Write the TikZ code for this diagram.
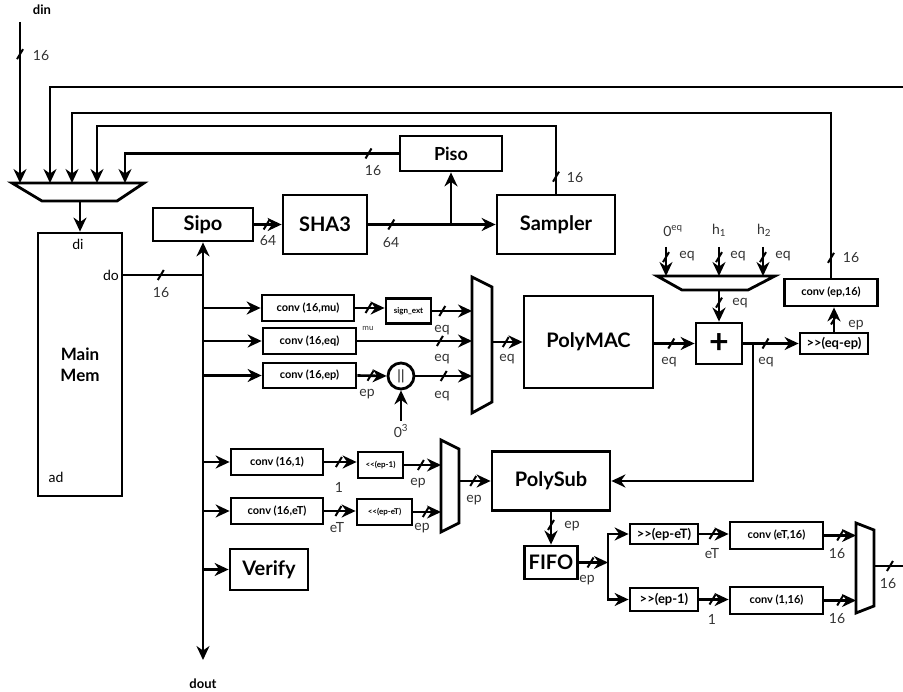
\documentclass[tikz,border=0pt]{standalone}
\usepackage{fontspec}
\setmainfont{Lato}
\usetikzlibrary{arrows.meta,positioning}

\begin{document}
\begin{tikzpicture}[x=1pt,y=-1pt,>={Stealth[length=14pt,width=13pt]},
  wire/.style={line width=2.6pt},
  blk/.style={draw,line width=2.8pt,inner sep=0pt,font=\bfseries\fontsize{20}{22}\selectfont},
  cblk/.style={draw,line width=2.8pt,inner sep=0pt,font=\bfseries\fontsize{11}{12}\selectfont},
  sblk/.style={draw,line width=2.8pt,inner sep=0pt,font=\bfseries\fontsize{8}{9}\selectfont},
  rblk/.style={draw,line width=2.8pt,inner sep=0pt,font=\bfseries\fontsize{13}{14}\selectfont},
  lbl/.style={inner sep=0pt,text=black!80,font=\fontsize{14}{15}\selectfont},
  io/.style={inner sep=0pt,font=\bfseries\fontsize{13}{14}\selectfont},
  slash/.pic={\draw[-,line width=2pt] (-3,5) -- (3,-5);}]

  \useasboundingbox (0,0) rectangle (903,692);

  % blocks
  \node[blk,minimum width=84pt,minimum height=263pt,align=center,font=\bfseries\fontsize{17}{21}\selectfont] (mem) at (80,364.5) {Main\\Mem};
  \node[blk,minimum width=100pt,minimum height=33pt] (sipo) at (203,224.5) {Sipo};
  \node[blk,minimum width=84pt,minimum height=59pt] (sha) at (325,224.5) {SHA3};
  \node[blk,minimum width=102pt,minimum height=35pt,font=\bfseries\fontsize{18}{20}\selectfont] (piso) at (451,153.5) {Piso};
  \node[blk,minimum width=118pt,minimum height=59pt] (samp) at (556,224.5) {Sampler};
  \node[cblk,minimum width=92pt,minimum height=26pt] (cmu) at (308,308) {conv (16,mu)};
  \node[cblk,minimum width=93pt,minimum height=26pt] (ceq) at (309.5,341) {conv (16,eq)};
  \node[cblk,minimum width=93pt,minimum height=25pt] (cep) at (309.5,375.5) {conv (16,ep)};
  \node[sblk,minimum width=45pt,minimum height=25pt] (sext) at (408.5,311) {sign\_ext};
  \node[draw,circle,line width=2.8pt,minimum size=26pt,inner sep=0pt,font=\fontsize{14}{14}\selectfont] (cat) at (401,376) {||};
  \node[blk,minimum width=129pt,minimum height=92pt] (pmac) at (588.5,342) {PolyMAC};
  \node[blk,minimum width=46pt,minimum height=41pt,font=\bfseries\fontsize{34}{34}\selectfont] (add) at (719,343.5) {+};
  \node[rblk,minimum width=68pt,minimum height=21pt] (rq) at (834,343.5) {>\kern0pt>(eq-ep)};
  \node[cblk,minimum width=93pt,minimum height=27pt] (cep16) at (831,292.5) {conv (ep,16)};
  \node[cblk,minimum width=92pt,minimum height=26pt] (c1) at (277,462) {conv (16,1)};
  \node[cblk,minimum width=92pt,minimum height=26pt] (ceT) at (277,511) {conv (16,eT)};
  \node[sblk,minimum width=45pt,minimum height=26pt] (sl1) at (380.5,465) {<\kern0pt<(ep-1)};
  \node[sblk,minimum width=55pt,minimum height=26pt] (slT) at (384.5,512) {<\kern0pt<(ep-eT)};
  \node[blk,minimum width=78pt,minimum height=41pt] (ver) at (269,569.5) {Verify};
  \node[blk,minimum width=118pt,minimum height=59pt] (psub) at (551,481) {PolySub};
  \node[blk,minimum width=53pt,minimum height=33pt] (fifo) at (551,562.5) {FIFO};
  \node[rblk,minimum width=68pt,minimum height=20pt] (rT) at (664,534) {>\kern0pt>(ep-eT)};
  \node[rblk,minimum width=68pt,minimum height=23pt] (r1) at (664,599.5) {>\kern0pt>(ep-1)};
  \node[cblk,minimum width=93pt,minimum height=27pt] (cT16) at (776.5,535.5) {conv (eT,16)};
  \node[cblk,minimum width=93pt,minimum height=27pt] (c116) at (776.5,600.5) {conv (1,16)};

  % muxes
  \draw[line width=2.8pt] (12,183) -- (144,183) -- (117,201) -- (42,201) -- cycle;
  \draw[line width=2.8pt] (472,277) -- (492,287) -- (492,402) -- (472,413) -- cycle;
  \draw[line width=2.8pt] (441,440) -- (459,449) -- (459,523) -- (441,532) -- cycle;
  \draw[line width=2.8pt] (657,276) -- (775,276) -- (748,290) -- (682,290) -- cycle;
  \draw[line width=2.8pt] (856,523) -- (874,530) -- (874,606) -- (856,613) -- cycle;
  \coordinate (m0) at (20,183);
  \coordinate (m1) at (50,183);
  \coordinate (m2) at (72,183);
  \coordinate (m3) at (97,183);
  \coordinate (m4) at (125,183);
  \coordinate (mo) at (80,201);
  \coordinate (mx1) at (472,345);
  \coordinate (mx1o) at (492,342);
  \coordinate (mx2) at (441,485);
  \coordinate (mx2o) at (459,481);
  \coordinate (a0) at (666,276);
  \coordinate (a1) at (719,276);
  \coordinate (a2) at (763,276);
  \coordinate (ao) at (719,290);
  \coordinate (mx3) at (856,566);
  \coordinate (mx3o) at (874,566);

  % memory ports
  \node[lbl,text=black,font=\fontsize{14}{14}\selectfont] (di) at (78,244) {di};
  \node[lbl,text=black,font=\fontsize{14}{14}\selectfont] (do) at (111,275) {do};
  \node[lbl,text=black,font=\fontsize{14}{14}\selectfont] (ad) at (56,477) {ad};

  % input and feedback into the top mux
  \coordinate (din) at (20,22);
  \node[io] (dinl) at (42,10) {din};
  \draw[wire,->] (din) -- (m0) pic[pos=.2]{slash};
  \node[lbl] (n1) at (41,56) {16};
  \coordinate (e0) at (903,87);
  \draw[wire,->] (e0) -| (m1);
  \coordinate (fb1) at (831,113);
  \draw[wire,->] (cep16.north) -- (fb1) pic[pos=.12]{slash} -| (m2);
  \node[lbl] (n2) at (851,258) {16};
  \coordinate (fb2) at (556,126);
  \draw[wire,->] (samp.north) -- (fb2) pic[pos=.25]{slash} -| (m3);
  \node[lbl] (n3) at (575,178) {16};
  \coordinate (fb3) at (125,153.5);
  \draw[wire,->] (piso.west) -- (fb3) pic[pos=.11]{slash} -- (m4);
  \node[lbl] (n4) at (373,171) {16};
  \draw[wire,->] (mo) -- (mem.north);

  % memory bus
  \coordinate (bus) at (203,275);
  \coordinate (dout) at (203,660);
  \draw[wire] (mem.east |- bus) -- (bus) pic[pos=.47]{slash};
  \node[lbl] (n5) at (161,293) {16};
  \draw[wire,->] (bus) -- (sipo.south);
  \draw[wire,->] (bus) -- (dout);
  \node[io] (doutl) at (203,684) {dout};
  \draw[wire,->] (cmu.west -| bus) -- (cmu.west);
  \draw[wire,->] (ceq.west -| bus) -- (ceq.west);
  \draw[wire,->] (cep.west -| bus) -- (cep.west);
  \draw[wire,->] (c1.west -| bus) -- (c1.west);
  \draw[wire,->] (ceT.west -| bus) -- (ceT.west);
  \draw[wire,->] (ver.west -| bus) -- (ver.west);

  % hash path
  \draw[wire,->] (sipo.east) -- (sha.west) pic[pos=.45]{slash};
  \node[lbl] (n6) at (268,241) {64};
  \draw[wire,->] (sha.east) -- (samp.west) pic[pos=.18]{slash};
  \node[lbl] (n7) at (391,243) {64};
  \coordinate (br1) at (451,224.5);
  \draw[wire,->] (br1) -- (piso.south);

  % PolyMAC inputs
  \draw[wire,->] (cmu.east) -- (cmu.east -| sext.west) pic[pos=.45]{slash};
  \node[lbl,font=\fontsize{8}{8}\selectfont] (n8) at (368,328) {mu};
  \draw[wire,->] (sext.east) -- (sext.east -| mx1) pic[pos=.25]{slash};
  \node[lbl] (n9) at (442,330) {eq};
  \draw[wire,->] (ceq.east) -- (ceq.east -| mx1) pic[pos=.72]{slash};
  \node[lbl] (n10) at (442,359) {eq};
  \draw[wire,->] (cep.east) -- (cat.west) pic[pos=.45]{slash};
  \node[lbl] (n11) at (367,394) {ep};
  \coordinate (zero) at (401,421);
  \draw[wire,->] (zero) -- (cat.south);
  \node[lbl] (n12) at (401,431) {0\textsuperscript{3}};
  \draw[wire,->] (cat.east) -- (cat.east -| mx1) pic[pos=.5]{slash};
  \node[lbl] (n13) at (442,396) {eq};
  \draw[wire,->] (mx1o) -- (pmac.west) pic[pos=.45]{slash};
  \node[lbl] (n14) at (507,359) {eq};

  % accumulate
  \draw[wire,->] (add.west -| pmac.east) -- (add.west) pic[pos=.42]{slash};
  \node[lbl] (n15) at (669,362) {eq};
  \node[lbl] (n16) at (673,231) {0\textsuperscript{eq}};
  \node[lbl] (n17) at (719,230) {h\textsubscript{1}};
  \node[lbl] (n18) at (764,230) {h\textsubscript{2}};
  \coordinate (a0in) at (666,247);
  \coordinate (a1in) at (719,247);
  \coordinate (a2in) at (763,247);
  \draw[wire,->] (a0in) -- (a0) pic[pos=.35]{slash};
  \draw[wire,->] (a1in) -- (a1) pic[pos=.35]{slash};
  \draw[wire,->] (a2in) -- (a2) pic[pos=.35]{slash};
  \node[lbl] (n19) at (687,256) {eq};
  \node[lbl] (n20) at (738,256) {eq};
  \node[lbl] (n21) at (783,256) {eq};
  \draw[wire,->] (ao) -- (add.north) pic[pos=.4]{slash};
  \node[lbl] (n22) at (740,303) {eq};
  \draw[wire,->] (add.east) -- (rq.west) pic[pos=.4]{slash};
  \node[lbl] (n23) at (766,362) {eq};
  \draw[wire,->] (rq.north) -- (rq.north |- cep16.south) pic[pos=.5]{slash};
  \node[lbl] (n24) at (856,325) {ep};
  \coordinate (br2) at (753,343.5);
  \draw[wire,->] (br2) |- (psub.east);

  % PolySub inputs
  \draw[wire,->] (c1.east) -- (c1.east -| sl1.west) pic[pos=.45]{slash};
  \node[lbl] (n25) at (339,487) {1};
  \draw[wire,->] (sl1.east) -- (sl1.east -| mx2) pic[pos=.45]{slash};
  \node[lbl] (n26) at (418,483) {ep};
  \draw[wire,->] (ceT.east) -- (ceT.east -| slT.west) pic[pos=.45]{slash};
  \node[lbl] (n27) at (337,528) {eT};
  \draw[wire,->] (slT.east) -- (slT.east -| mx2) pic[pos=.45]{slash};
  \node[lbl] (n28) at (422,528) {ep};
  \draw[wire,->] (psub.west -| mx2o) -- (psub.west) pic[pos=.45]{slash};
  \node[lbl] (n29) at (474,500) {ep};

  % output path
  \draw[wire,->] (psub.south) -- (fifo.north) pic[pos=.4]{slash};
  \node[lbl] (n30) at (572,526) {ep};
  \coordinate (sp) at (608,562.5);
  \draw[wire,->] (fifo.east) -- (sp) pic[pos=.4]{slash};
  \node[lbl] (n31) at (587,580) {ep};
  \draw[wire,->] (sp) |- (rT.west);
  \draw[wire,->] (sp) |- (r1.west);
  \draw[wire,->] (rT.east) -- (rT.east -| cT16.west) pic[pos=.45]{slash};
  \node[lbl] (n32) at (712,554) {eT};
  \draw[wire,->] (r1.east) -- (r1.east -| c116.west) pic[pos=.45]{slash};
  \node[lbl] (n33) at (712,619) {1};
  \draw[wire,->] (cT16.east) -- (cT16.east -| mx3) pic[pos=.5]{slash};
  \node[lbl] (n34) at (837,554) {16};
  \draw[wire,->] (c116.east) -- (c116.east -| mx3) pic[pos=.5]{slash};
  \node[lbl] (n35) at (837,619) {16};
  \coordinate (e1) at (903,566);
  \draw[wire] (mx3o) -- (e1) pic[pos=.55]{slash};
  \node[lbl] (n36) at (888,584) {16};

\end{tikzpicture}
\end{document}
